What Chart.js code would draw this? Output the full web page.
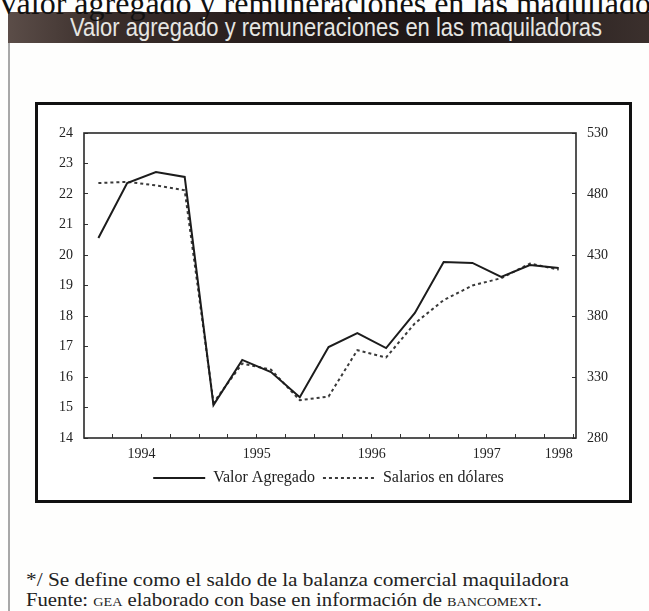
<!DOCTYPE html>
<html>
<head>
<meta charset="utf-8">
<script src="https://cdn.jsdelivr.net/npm/chart.js@4.4.1/dist/chart.umd.min.js"></script>
<style>
  html, body { margin: 0; padding: 0; }
  body { width: 649px; height: 611px; position: relative; overflow: hidden; background: #fefefd; }
  #toptext { position: absolute; left: -3px; top: -13px; font: 32px/32px "Liberation Serif", serif; color: #111; white-space: nowrap; }
  #band { position: absolute; left: 8px; top: 12px; width: 641px; height: 31px;
    background: linear-gradient(90deg, #5b4d48 0%, #3a2e2b 15%, #231a19 45%, #1e1717 70%, #3b302d 100%); }
  #bandtext { position: absolute; left: 62px; top: 1px; font: 25px/28px "Liberation Sans", Arial, sans-serif; color: #e6e6e3; white-space: nowrap; transform-origin: 0 0; }
  #sidebar { position: absolute; left: 8px; top: 43px; width: 2px; height: 568px; background: #a8a8a8; }
  #box { position: absolute; left: 35px; top: 102px; width: 597px; height: 401px; border: 3px solid #111; box-sizing: border-box; background: #fff; }
  #chart { position: absolute; left: 0; top: 0; }
  .note { position: absolute; left: 26px; font: 19px/20px "Liberation Serif", serif; color: #222; white-space: nowrap; transform-origin: 0 0; }
  .sc { font-variant: small-caps; }
</style>
</head>
<body>
<div id="band"><span id="bandtext">Valor agregado y remuneraciones en las maquiladoras</span></div>
<div id="toptext">Valor agregado y remuneraciones en las maquiladoras</div>
<div id="sidebar"></div>
<div id="box"><canvas id="chart" width="591" height="395"></canvas></div>
<div class="note" id="note1" style="top:570px">*/ Se define como el saldo de la balanza comercial maquiladora</div>
<div class="note" id="note2" style="top:590px">Fuente: <span class="sc">gea</span> elaborado con base en información de <span class="sc">bancomext</span>.</div>
<script>
const quarters = [
  "1994-I", "1994-II", "1994-III", "1994-IV",
  "1995-I", "1995-II", "1995-III", "1995-IV",
  "1996-I", "1996-II", "1996-III", "1996-IV",
  "1997-I", "1997-II", "1997-III", "1997-IV",
  "1998-I"
];
const valorAgregado = [20.56, 22.36, 22.72, 22.56, 15.08, 16.56, 16.16, 15.34, 16.98, 17.44, 16.95, 18.10, 19.77, 19.74, 19.28, 19.67, 19.57];
const salarios = [489, 490, 487, 483, 309, 341, 336, 311, 314, 352, 346, 374, 393, 405, 411, 423, 418];
const years = ["1994", "1995", "1996", "1997", "1998"];
const leftTicks = [14, 24, 1];
const rightTicks = [280, 530, 50];

// the scan is a bit wider than the fonts we have, stretch to fit
function stretchTo(id, width) {
  const el = document.getElementById(id);
  el.style.transform = `scaleX(${width / el.getBoundingClientRect().width})`;
}
stretchTo("bandtext", 532);
stretchTo("note1", 543);
stretchTo("note2", 516);

// year label sits at the middle of its quarters
const yearPos = years.map(y => {
  const idx = quarters.map((q, i) => q.startsWith(y) ? i : -1).filter(i => i >= 0);
  return idx.reduce((a, b) => a + b, 0) / idx.length;
});
const boundaries = quarters.map((q, i) => i + 0.5);

const chartAreaBorder = {
  id: "chartAreaBorder",
  afterDraw(chart) {
    const { ctx, chartArea: { left, top, width, height } } = chart;
    ctx.save();
    ctx.strokeStyle = "#2a2a2a";
    ctx.lineWidth = 1.6;
    ctx.strokeRect(left, top, width, height);
    ctx.restore();
  }
};

Chart.defaults.font.family = "'Liberation Serif', 'DejaVu Serif', serif";
Chart.defaults.color = "#222";

const ink = "#1c1c1c";
const tickGrid = { drawOnChartArea: false, drawTicks: true, tickLength: -4, color: "#333", lineWidth: 1 };

new Chart(document.getElementById("chart"), {
  type: "line",
  data: {
    datasets: [{
      label: "Valor Agregado",
      data: quarters.map((q, i) => ({ x: i, y: valorAgregado[i] })),
      borderColor: ink,
      borderWidth: 2,
      pointRadius: 0,
      tension: 0,
      yAxisID: "y"
    }, {
      label: "Salarios en dólares",
      data: quarters.map((q, i) => ({ x: i, y: salarios[i] })),
      borderColor: "#3a3a3a",
      borderWidth: 2,
      borderDash: [3, 3],
      pointRadius: 0,
      tension: 0,
      yAxisID: "y1"
    }]
  },
  options: {
    responsive: false,
    animation: false,
    layout: { padding: { top: 28, left: 0, right: 10, bottom: 4 } },
    scales: {
      x: {
        type: "linear",
        min: -0.5,
        max: 16.6,
        afterBuildTicks: axis => {
          axis.ticks = boundaries.concat([yearPos[yearPos.length - 1]]).map(v => ({ value: v }));
        },
        afterFit: axis => { axis.height = 24; },
        ticks: {
          autoSkip: false,
          maxRotation: 0,
          padding: 12,
          font: { size: 14 },
          callback: value => {
            const k = yearPos.indexOf(value);
            return k >= 0 ? years[k] : "";
          }
        },
        grid: Object.assign({}, tickGrid, {
          color: ctx => (ctx.tick && ctx.tick.value === yearPos[yearPos.length - 1]) ? "rgba(0,0,0,0)" : "#333"
        }),
        border: { display: false }
      },
      y: {
        position: "left",
        min: leftTicks[0],
        max: leftTicks[1],
        afterFit: axis => { axis.width = 46; },
        ticks: { stepSize: leftTicks[2], padding: 15, font: { size: 14 } },
        grid: tickGrid,
        border: { display: false }
      },
      y1: {
        position: "right",
        min: rightTicks[0],
        max: rightTicks[1],
        afterFit: axis => { axis.width = 43; },
        ticks: { stepSize: rightTicks[2], padding: 15, font: { size: 14 } },
        grid: tickGrid,
        border: { display: false }
      }
    },
    plugins: {
      legend: {
        position: "bottom",
        labels: {
          usePointStyle: true,
          pointStyle: "line",
          pointStyleWidth: 52,
          padding: 8,
          color: "#222",
          font: { size: 16 },
          generateLabels: chart => {
            const items = Chart.defaults.plugins.legend.labels.generateLabels(chart);
            items.forEach(item => {
              const ds = chart.data.datasets[item.datasetIndex];
              item.lineDash = ds.borderDash || [];
              item.lineWidth = ds.borderWidth;
              item.strokeStyle = ds.borderColor;
            });
            return items;
          }
        }
      },
      tooltip: { enabled: false }
    }
  },
  plugins: [chartAreaBorder]
});
</script>
</body>
</html>
